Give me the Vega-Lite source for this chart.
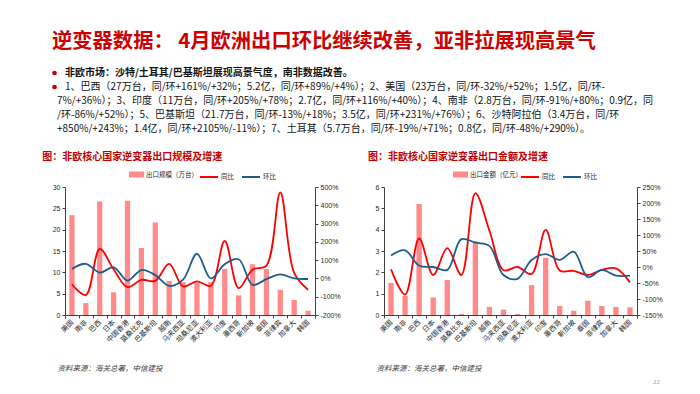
{
  "$schema": "https://vega.github.io/schema/vega-lite/v6.json",
  "background": "white",
  "padding": {"left": 42, "top": 0, "right": 0, "bottom": 4},
  "datasets": {
    "header": [
      {"row": 0, "kind": "title", "bullet": false, "text": "逆变器数据： 4月欧洲出口环比继续改善，亚非拉展现高景气"},
      {"row": 1, "kind": "lead", "bullet": true, "text": "非欧市场：沙特/土耳其/巴基斯坦展现高景气度，南非数据改善。"},
      {"row": 2, "kind": "item", "bullet": true, "text": "1、巴西（27万台，同/环+161%/+32%；5.2亿，同/环+89%/+4%）；2、美国（23万台，同/环-32%/+52%；1.5亿，同/环-"},
      {"row": 3, "kind": "cont", "bullet": false, "text": "7%/+36%）；3、印度（11万台，同/环+205%/+78%；2.7亿，同/环+116%/+40%）；4、南非（2.8万台，同/环-91%/+80%；0.9亿，同"},
      {"row": 4, "kind": "cont", "bullet": false, "text": "/环-86%/+52%）；5、巴基斯坦（21.7万台，同/环-13%/+18%；3.5亿，同/环+231%/+76%）；6、沙特阿拉伯（3.4万台，同/环"},
      {"row": 5, "kind": "cont", "bullet": false, "text": "+850%/+243%；1.4亿，同/环+2105%/-11%）；7、土耳其（5.7万台，同/环-19%/+71%；0.8亿，同/环-48%/+290%）。"}
    ],
    "vol": [
      {"country": "美国", "amount": 23.4, "同比": -32, "环比": 52},
      {"country": "南非", "amount": 2.8, "同比": -91, "环比": 80},
      {"country": "巴西", "amount": 26.6, "同比": 161, "环比": 32},
      {"country": "日本", "amount": 5.3, "同比": 50, "环比": 61},
      {"country": "中国香港", "amount": 26.8, "同比": -48, "环比": -12},
      {"country": "莫桑比克", "amount": 15.7, "同比": -8, "环比": 46},
      {"country": "巴基斯坦", "amount": 21.7, "同比": -13, "环比": 18},
      {"country": "越南", "amount": 8.0, "同比": 80, "环比": -41},
      {"country": "马来西亚", "amount": 7.7, "同比": -44, "环比": -7},
      {"country": "坦桑尼亚", "amount": 7.6, "同比": -16, "环比": 135},
      {"country": "澳大利亚", "amount": 7.7, "同比": -40, "环比": 0},
      {"country": "印度", "amount": 10.8, "同比": 205, "环比": 78},
      {"country": "墨西哥", "amount": 4.6, "同比": -53, "环比": 105},
      {"country": "新加坡", "amount": 11.9, "同比": 48, "环比": -35},
      {"country": "泰国", "amount": 10.8, "同比": 70, "环比": -4},
      {"country": "菲律宾", "amount": 5.9, "同比": 470, "环比": 22},
      {"country": "加拿大", "amount": 3.5, "同比": 30, "环比": 0},
      {"country": "韩国", "amount": 1.0, "同比": -62, "环比": -3}
    ],
    "val": [
      {"country": "美国", "amount": 1.5, "同比": -7, "环比": 36},
      {"country": "南非", "amount": 0.9, "同比": -86, "环比": 52},
      {"country": "巴西", "amount": 5.2, "同比": 89, "环比": 4},
      {"country": "日本", "amount": 0.82, "同比": -25, "环比": 0},
      {"country": "中国香港", "amount": 1.64, "同比": 59, "环比": -9},
      {"country": "莫桑比克", "amount": 0.05, "同比": -25, "环比": 87},
      {"country": "巴基斯坦", "amount": 3.45, "同比": 231, "环比": 76},
      {"country": "越南", "amount": 0.38, "同比": 114, "环比": 66},
      {"country": "马来西亚", "amount": 0.25, "同比": -10, "环比": -25},
      {"country": "坦桑尼亚", "amount": 0.05, "同比": 0, "环比": -37},
      {"country": "澳大利亚", "amount": 1.4, "同比": -22, "环比": 22},
      {"country": "印度", "amount": 2.68, "同比": 116, "环比": 40},
      {"country": "墨西哥", "amount": 0.42, "同比": -11, "环比": 22},
      {"country": "新加坡", "amount": 0.2, "同比": -12, "环比": 48},
      {"country": "泰国", "amount": 0.67, "同比": -25, "环比": -32},
      {"country": "菲律宾", "amount": 0.42, "同比": -9, "环比": -9},
      {"country": "加拿大", "amount": 0.38, "同比": -4, "环比": -27},
      {"country": "韩国", "amount": 0.36, "同比": -48, "环比": -27}
    ]
  },
  "title": {"text": "22", "orient": "bottom", "anchor": "end", "dx": -10, "fontSize": 7, "fontWeight": "normal", "color": "#A0A0A0", "font": "Liberation Serif", "offset": 6},
  "bounds": "flush",
  "spacing": 42,
  "vconcat": [
    {
      "width": 605,
      "height": 145,
      "data": {"name": "header"},
      "layer": [
        {
          "transform": [{"filter": "datum.kind == 'title'"}],
          "mark": {"type": "text", "x": -13, "y": 42, "align": "left", "baseline": "middle", "fontSize": 20.3, "fontWeight": "bold", "color": "#CC0000", "font": "Noto Sans CJK SC"},
          "encoding": {"text": {"field": "text", "type": "nominal"}}
        },
        {
          "transform": [{"filter": "datum.kind == 'lead'"}],
          "mark": {"type": "text", "x": 0, "align": "left", "baseline": "middle", "fontSize": 10, "fontWeight": "bold", "color": "#111111", "font": "Noto Sans CJK SC"},
          "encoding": {
            "text": {"field": "text", "type": "nominal"},
            "y": {"field": "row", "type": "quantitative", "scale": {"domain": [1, 5], "range": [73, 129]}, "axis": null}
          }
        },
        {
          "transform": [{"filter": "datum.kind == 'item'"}],
          "mark": {"type": "text", "x": 0, "align": "left", "baseline": "middle", "fontSize": 10, "color": "#111111", "font": "Noto Sans CJK SC"},
          "encoding": {
            "text": {"field": "text", "type": "nominal"},
            "y": {"field": "row", "type": "quantitative", "scale": {"domain": [1, 5], "range": [73, 129]}, "axis": null}
          }
        },
        {
          "transform": [{"filter": "datum.kind == 'cont'"}],
          "mark": {"type": "text", "x": -8, "align": "left", "baseline": "middle", "fontSize": 10, "color": "#111111", "font": "Noto Sans CJK SC"},
          "encoding": {
            "text": {"field": "text", "type": "nominal"},
            "y": {"field": "row", "type": "quantitative", "scale": {"domain": [1, 5], "range": [73, 129]}, "axis": null}
          }
        },
        {
          "transform": [{"filter": "datum.bullet"}],
          "mark": {"type": "circle", "x": -10.5, "size": 22, "color": "#CC0000", "opacity": 1},
          "encoding": {
            "y": {"field": "row", "type": "quantitative", "scale": {"domain": [1, 5], "range": [73, 129]}, "axis": null}
          }
        }
      ]
    },
    {
      "bounds": "flush",
      "spacing": 69,
      "hconcat": [
        {
          "width": 250,
          "height": 128,
          "data": {"name": "vol"},
          "title": {"text": "图：非欧核心国家逆变器出口规模及增速", "anchor": "start", "dx": -10, "offset": 5, "fontSize": 10, "fontWeight": "bold", "color": "#C00000", "font": "Noto Sans CJK SC"},
          "encoding": {
            "x": {
              "field": "country", "type": "nominal",
              "sort": ["美国","南非","巴西","日本","中国香港","莫桑比克","巴基斯坦","越南","马来西亚","坦桑尼亚","澳大利亚","印度","墨西哥","新加坡","泰国","菲律宾","加拿大","韩国"],
              "scale": {"paddingInner": 0, "paddingOuter": 0},
              "axis": {"labelAngle": -45, "labelAlign": "right", "labelBaseline": "middle", "labelFontSize": 7, "labelFont": "Noto Sans CJK SC", "labelPadding": 3, "tickBand": "extent", "title": "资料来源：海关总署，中信建投", "titleX": -8, "titleY": 53, "titleAlign": "left", "titleAnchor": "start", "titleBaseline": "middle", "titleFontStyle": "italic", "titleFontWeight": "normal", "titleFontSize": 7.5, "titleColor": "#404040", "titleFont": "Noto Sans CJK SC"}
            }
          },
          "layer": [
            {
              "mark": {"type": "bar", "width": {"band": 0.38}},
              "encoding": {
                "y": {"field": "amount", "type": "quantitative", "scale": {"domain": [0, 30], "nice": false}, "axis": {"values": [0, 5, 10, 15, 20, 25, 30], "title": null, "labelFont": "Liberation Sans", "labelFontSize": 7}},
                "fill": {"datum": "出口规模（万台）", "type": "nominal", "scale": {"range": ["#FF8A8A"]}, "legend": {"orient": "none", "legendX": 64, "legendY": -20, "direction": "horizontal", "title": null, "symbolType": "M-1,-0.4H1V0.4H-1Z", "symbolSize": 225, "symbolStrokeWidth": 0, "labelOffset": 2}}
              }
            },
            {
              "transform": [{"fold": ["同比", "环比"], "as": ["metric", "pct"]}],
              "mark": {"type": "line", "interpolate": "catmull-rom", "strokeWidth": 1.8},
              "encoding": {
                "y": {"field": "pct", "type": "quantitative", "scale": {"domain": [-200, 500], "nice": false}, "axis": {"orient": "right", "values": [-200, -100, 0, 100, 200, 300, 400, 500], "labelExpr": "datum.value + '%'", "title": null, "labelFont": "Liberation Sans", "labelFontSize": 7}},
                "stroke": {"field": "metric", "type": "nominal", "scale": {"domain": ["同比", "环比"], "range": ["#FF0000", "#1F5C8E"]}, "legend": {"orient": "none", "legendX": 134, "legendY": -20, "direction": "horizontal", "title": null, "symbolType": "stroke", "symbolSize": 324, "symbolStrokeWidth": 2, "labelOffset": 2, "columnPadding": 4}}
              }
            }
          ],
          "resolve": {"scale": {"y": "independent", "fill": "independent", "stroke": "independent"}}
        },
        {
          "width": 253,
          "height": 128,
          "data": {"name": "val"},
          "title": {"text": "图：非欧核心国家逆变器出口金额及增速", "anchor": "start", "dx": -7, "offset": 5, "fontSize": 10, "fontWeight": "bold", "color": "#C00000", "font": "Noto Sans CJK SC"},
          "encoding": {
            "x": {
              "field": "country", "type": "nominal",
              "sort": ["美国","南非","巴西","日本","中国香港","莫桑比克","巴基斯坦","越南","马来西亚","坦桑尼亚","澳大利亚","印度","墨西哥","新加坡","泰国","菲律宾","加拿大","韩国"],
              "scale": {"paddingInner": 0, "paddingOuter": 0},
              "axis": {"labelAngle": -45, "labelAlign": "right", "labelBaseline": "middle", "labelFontSize": 7, "labelFont": "Noto Sans CJK SC", "labelPadding": 3, "tickBand": "extent", "title": "资料来源：海关总署，中信建投", "titleX": -8, "titleY": 53, "titleAlign": "left", "titleAnchor": "start", "titleBaseline": "middle", "titleFontStyle": "italic", "titleFontWeight": "normal", "titleFontSize": 7.5, "titleColor": "#404040", "titleFont": "Noto Sans CJK SC"}
            }
          },
          "layer": [
            {
              "mark": {"type": "bar", "width": {"band": 0.38}},
              "encoding": {
                "y": {"field": "amount", "type": "quantitative", "scale": {"domain": [0, 6], "nice": false}, "axis": {"values": [0, 1, 2, 3, 4, 5, 6], "title": null, "labelFont": "Liberation Sans", "labelFontSize": 7}},
                "fill": {"datum": "出口金额（亿元）", "type": "nominal", "scale": {"range": ["#FF8A8A"]}, "legend": {"orient": "none", "legendX": 69, "legendY": -20, "direction": "horizontal", "title": null, "symbolType": "M-1,-0.4H1V0.4H-1Z", "symbolSize": 225, "symbolStrokeWidth": 0, "labelOffset": 2}}
              }
            },
            {
              "transform": [{"fold": ["同比", "环比"], "as": ["metric", "pct"]}],
              "mark": {"type": "line", "interpolate": "catmull-rom", "strokeWidth": 1.8},
              "encoding": {
                "y": {"field": "pct", "type": "quantitative", "scale": {"domain": [-150, 250], "nice": false}, "axis": {"orient": "right", "values": [-150, -100, -50, 0, 50, 100, 150, 200, 250], "labelExpr": "datum.value + '%'", "title": null, "labelFont": "Liberation Sans", "labelFontSize": 7}},
                "stroke": {"field": "metric", "type": "nominal", "scale": {"domain": ["同比", "环比"], "range": ["#FF0000", "#1F5C8E"]}, "legend": {"orient": "none", "legendX": 136, "legendY": -20, "direction": "horizontal", "title": null, "symbolType": "stroke", "symbolSize": 324, "symbolStrokeWidth": 2, "labelOffset": 2, "columnPadding": 4}}
              }
            }
          ],
          "resolve": {"scale": {"y": "independent", "fill": "independent", "stroke": "independent"}}
        }
      ]
    }
  ],
  "config": {
    "view": {"stroke": null},
    "font": "Noto Sans CJK SC",
    "axis": {"domainColor": "#404040", "tickColor": "#404040", "labelColor": "#262626", "grid": false, "tickSize": 3, "labelPadding": 2, "domainWidth": 1, "tickWidth": 1},
    "legend": {"padding": 0, "labelFontSize": 6.5, "labelColor": "#262626", "labelFont": "Noto Sans CJK SC"}
  }
}
